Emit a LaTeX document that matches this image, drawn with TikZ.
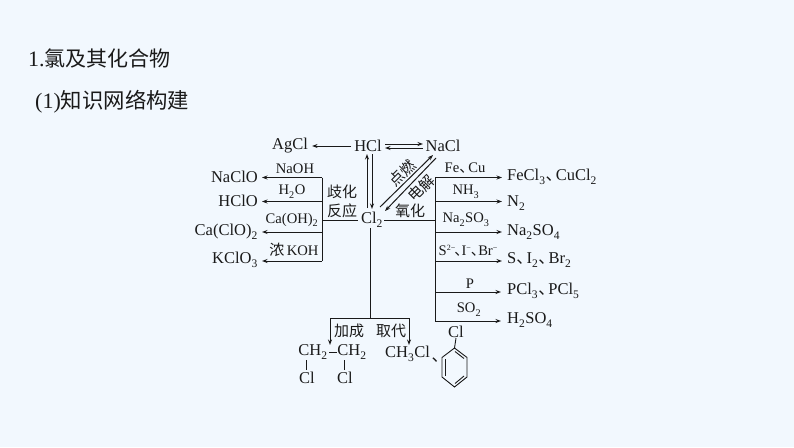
\documentclass[tikz,border=0pt]{standalone}
\usepackage{fontspec}
\setmainfont{Liberation Serif}
\newfontfamily\cjk{Noto Sans CJK SC}
\usetikzlibrary{arrows.meta}
\newcommand{\dn}[1]{\raisebox{-.25ex}{\textsubscript{#1}}}
\newcommand{\up}[1]{\raisebox{.75ex}{\fontsize{8}{8}\selectfont #1}}
\newcommand{\dun}{\makebox[.62em][l]{\cjk 、}}
\definecolor{bgc}{HTML}{F2F8FE}
\definecolor{inkc}{HTML}{1A1A1A}
\tikzset{
 x=1pt,y=-1pt,
 chem/.style={inner sep=0pt,text=inkc,font=\fontsize{16.5}{18}\selectfont},
 lab/.style={inner sep=0pt,text=inkc,font=\fontsize{14.6}{16}\selectfont},
 cn/.style={inner sep=0pt,text=inkc,font=\cjk\fontsize{15}{16}\selectfont},
 ttl/.style={inner sep=0pt,anchor=base west,text=inkc,font=\fontsize{22}{24}\selectfont},
 ln/.style={draw=inkc,line width=1pt},
 arr/.style={ln,-{Stealth[length=5.5pt,width=4pt]}},
 bond/.style={draw=inkc,line width=0.9pt}
}
\begin{document}
\begin{tikzpicture}
\useasboundingbox (0,0) rectangle (794,447);
\fill[bgc] (0,0) rectangle (794,447);
% titles
\node[ttl] (t1) at (28,66) {1.{\cjk\fontsize{21}{24}\selectfont 氯及其化合物}};
\node[ttl] (t2) at (35,108) {(1){\cjk\fontsize{21.4}{24}\selectfont 知识网络构建}};
% top row
\node[chem] (AgCl) at (290,146) {AgCl};
\node[chem] (HCl) at (368,146) {HCl};
\node[chem] (NaCl) at (443,146) {NaCl};
\node[chem] (Cl2) at (372,220) {Cl\dn{2}};
\coordinate (h1) at (385,144); \coordinate (h2) at (423,144);
\coordinate (h3) at (423,148); \coordinate (h4) at (385,148);
\draw[arr,shorten <=3pt,shorten >=4pt] (HCl.west) -- (AgCl.east);
\draw[arr] (h1) -- (h2);
\draw[arr] (h3) -- (h4);
\coordinate (v1) at (367,208); \coordinate (v2) at (367,154);
\coordinate (v3) at (372,154); \coordinate (v4) at (372,209);
\draw[arr] (v1) -- (v2);
\draw[arr] (v3) -- (v4);
\coordinate (d1) at (380,207); \coordinate (d2) at (433,155);
\coordinate (d3) at (436,158); \coordinate (d4) at (385,211);
\draw[arr] (d1) -- (d2);
\draw[arr] (d3) -- (d4);
\node[cn,rotate=45] (dr) at (402,173) {点燃};
\node[cn,rotate=45] (dj) at (421,188) {电解};
% left branch
\coordinate (jL) at (322,220);
\coordinate (L1) at (322,177.5); \coordinate (L2) at (322,201.5);
\coordinate (L3) at (322,232); \coordinate (L4) at (322,261);
\draw[ln,shorten <=3pt] (Cl2.west) -- (jL);
\draw[ln] (L1) -- (L4);
\node[chem,anchor=east] (p1) at (258,177) {NaClO};
\node[chem,anchor=east] (p2) at (258,201) {HClO};
\node[chem,anchor=east] (p3) at (258,232) {Ca(ClO)\dn{2}};
\node[chem,anchor=east] (p4) at (258,260) {KClO\dn{3}};
\coordinate (e1) at (262,177.5); \coordinate (e2) at (262,201.5);
\coordinate (e3) at (262,232); \coordinate (e4) at (262,261);
\draw[arr] (L1) -- (e1);
\draw[arr] (L2) -- (e2);
\draw[arr] (L3) -- (e3);
\draw[arr] (L4) -- (e4);
\node[lab] (a1) at (295,169) {NaOH};
\node[lab] (a2) at (292,192) {H\dn{2}O};
\node[lab] (a3) at (292,220) {Ca(OH)\dn{2}};
\node[lab] (a4) at (294,250) {{\cjk\fontsize{15}{16}\selectfont 浓}\,KOH};
\node[cn] (q1) at (342,192) {歧化};
\node[cn] (q2) at (342,211) {反应};
% right branch
\coordinate (jR) at (435,220);
\coordinate (R1) at (435,177.5); \coordinate (R2) at (435,201.5);
\coordinate (R3) at (435,232); \coordinate (R4) at (435,261);
\coordinate (R5) at (435,292); \coordinate (R6) at (435,321);
\draw[ln,shorten <=1pt] (Cl2.east) -- (jR);
\draw[ln] (R1) -- (R6);
\node[chem,anchor=west] (r1) at (507,177) {FeCl\dn{3}\dun CuCl\dn{2}};
\node[chem,anchor=west] (r2) at (507,203) {N\dn{2}};
\node[chem,anchor=west] (r3) at (507,232) {Na\dn{2}SO\dn{4}};
\node[chem,anchor=west] (r4) at (507,260) {S\dun I\dn{2}\dun Br\dn{2}};
\node[chem,anchor=west] (r5) at (507,291) {PCl\dn{3}\dun PCl\dn{5}};
\node[chem,anchor=west] (r6) at (507,320) {H\dn{2}SO\dn{4}};
\coordinate (f1) at (502,177.5); \coordinate (f2) at (502,201.5);
\coordinate (f3) at (502,232); \coordinate (f4) at (502,261);
\coordinate (f5) at (501,292); \coordinate (f6) at (501,321);
\draw[arr] (R1) -- (f1);
\draw[arr] (R2) -- (f2);
\draw[arr] (R3) -- (f3);
\draw[arr] (R4) -- (f4);
\draw[arr] (R5) -- (f5);
\draw[arr] (R6) -- (f6);
\node[lab] (b1) at (465,168) {Fe\dun Cu};
\node[lab] (b2) at (466,192) {NH\dn{3}};
\node[lab] (b3) at (466,220) {Na\dn{2}SO\dn{3}};
\node[lab] (b4) at (468,251) {S\up{2−}\kern-1pt\makebox[.5em][l]{\cjk 、}I\up{−}\makebox[.5em][l]{\cjk 、}Br\up{−}};
\node[lab] (b5) at (470,284) {P};
\node[lab] (b6) at (469,310) {SO\dn{2}};
\node[cn] (q3) at (410,211) {氧化};
% down branch
\coordinate (jD) at (370,318);
\coordinate (D1) at (330,318); \coordinate (D2) at (409,318);
\coordinate (g1) at (330,345); \coordinate (g2) at (409,345);
\draw[ln] (370,228) -- (jD);
\draw[ln] (D1) -- (D2);
\draw[arr] (D1) -- (g1);
\draw[arr] (D2) -- (g2);
\node[cn] (c1) at (349,331) {加成};
\node[cn] (c2) at (391,331) {取代};
\node[chem] (m1) at (313,352) {CH\dn{2}};
\node[chem] (m2) at (352,352) {CH\dn{2}};
\node[chem] (m3) at (307,378) {Cl};
\node[chem] (m4) at (345,378) {Cl};
\coordinate (m1a) at (329,352); \coordinate (m2a) at (337,352);
\draw[bond] (m1a) -- (m2a);
\coordinate (s1) at (306.5,360); \coordinate (s2) at (306.5,370);
\coordinate (s3) at (344.5,360); \coordinate (s4) at (344.5,370);
\draw[bond] (s1) -- (s2);
\draw[bond] (s3) -- (s4);
\node[chem,anchor=west] (m5) at (385,354) {CH\dn{3}Cl};
\node[chem,anchor=west] (m6) at (431.5,360) {\dun};
\node[chem] (m7) at (456,332) {Cl};
% benzene
\coordinate (z1) at (454.5,348); \coordinate (z2) at (467,357.5);
\coordinate (z3) at (467,377); \coordinate (z4) at (454.5,387);
\coordinate (z5) at (442,377); \coordinate (z6) at (442,357.5);
\draw[bond] (z1) -- (z2) -- (z3) -- (z4) -- (z5) -- (z6) -- cycle;
\draw[bond] (m7.south) -- (z1);
\coordinate (i1) at (455,351.5); \coordinate (i2) at (464,358.5);
\coordinate (i3) at (464,376); \coordinate (i4) at (455,383.5);
\coordinate (i5) at (445,359); \coordinate (i6) at (445,375.5);
\draw[bond] (i1) -- (i2);
\draw[bond] (i3) -- (i4);
\draw[bond] (i5) -- (i6);
\end{tikzpicture}
\end{document}
